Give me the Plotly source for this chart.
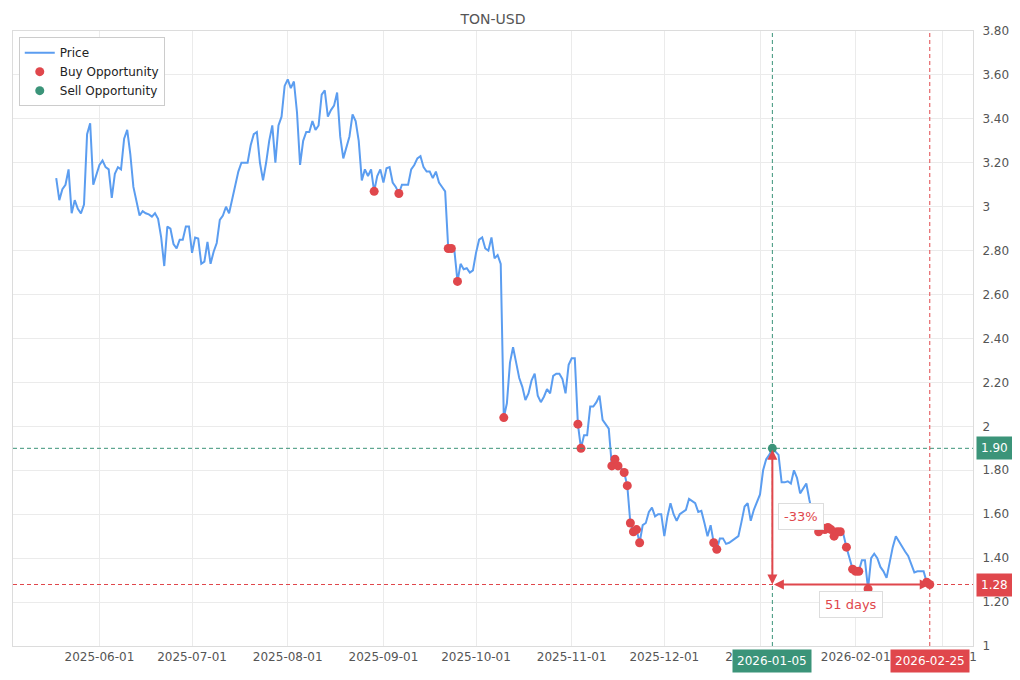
import pandas as pd
import plotly.graph_objects as go

# colours
blue = "#5b9df0"
red = "#e0474c"
green = "#3b9479"
grey_txt = "#555555"

ticker = "TON-USD"
first_day = "2025-05-18"

# daily closes, one list per month
may_prices = [3.13, 3.03, 3.08, 3.10, 3.17, 2.97, 3.03, 2.99, 2.97, 3.01, 3.33, 3.38, 3.10, 3.14]
jun_prices = [3.19, 3.21, 3.18, 3.17, 3.04, 3.15, 3.18, 3.17, 3.31, 3.35, 3.24, 3.09, 3.03, 2.96, 2.98,
              2.97, 2.965, 2.955, 2.97, 2.945, 2.86, 2.73, 2.91, 2.90, 2.83, 2.81, 2.85, 2.85, 2.91, 2.91]
jul_prices = [2.79, 2.86, 2.855, 2.74, 2.75, 2.84, 2.74, 2.795, 2.835, 2.94, 2.96, 3.00, 2.97, 3.03, 3.09,
              3.16, 3.20, 3.20, 3.20, 3.28, 3.33, 3.34, 3.20, 3.12, 3.20, 3.30, 3.37, 3.20, 3.37, 3.41, 3.55]
aug_prices = [3.58, 3.54, 3.57, 3.43, 3.19, 3.30, 3.34, 3.34, 3.39, 3.35, 3.37, 3.51, 3.53, 3.41, 3.44,
              3.46, 3.52, 3.32, 3.22, 3.27, 3.32, 3.42, 3.39, 3.30, 3.12, 3.17, 3.14, 3.17, 3.07, 3.14, 3.17]
sep_prices = [3.11, 3.175, 3.18, 3.11, 3.09, 3.06, 3.10, 3.10, 3.10, 3.17, 3.19, 3.22, 3.23, 3.18, 3.16,
              3.16, 3.13, 3.16, 3.11, 3.09, 3.07, 2.81, 2.81, 2.80, 2.66, 2.74, 2.715, 2.72, 2.70, 2.71]
oct_prices = [2.79, 2.85, 2.86, 2.81, 2.80, 2.86, 2.765, 2.78, 2.74, 2.04, 2.105, 2.29, 2.36, 2.29, 2.22,
              2.18, 2.12, 2.15, 2.21, 2.24, 2.14, 2.11, 2.135, 2.17, 2.15, 2.23, 2.24, 2.24, 2.215, 2.15, 2.28]
nov_prices = [2.31, 2.31, 2.01, 1.90, 1.96, 1.96, 2.09, 2.09, 2.11, 2.14, 2.03, 2.01, 1.99, 1.82, 1.85,
              1.82, 1.81, 1.79, 1.73, 1.56, 1.52, 1.53, 1.47, 1.55, 1.56, 1.61, 1.63, 1.59, 1.60, 1.60]
dec_prices = [1.50, 1.59, 1.65, 1.60, 1.57, 1.60, 1.61, 1.62, 1.67, 1.66, 1.65, 1.61, 1.615, 1.56, 1.50,
              1.55, 1.47, 1.44, 1.49, 1.49, 1.465, 1.47, 1.48, 1.49, 1.50, 1.565, 1.635, 1.65, 1.57, 1.62, 1.66]
jan_prices = [1.69, 1.80, 1.85, 1.87, 1.90, 1.885, 1.87, 1.745, 1.745, 1.75, 1.74, 1.80, 1.765, 1.695, 1.72,
              1.74, 1.665, 1.60, 1.56, 1.52, 1.54, 1.53, 1.54, 1.53, 1.50, 1.52, 1.52, 1.51, 1.45, 1.40, 1.35]
feb_prices = [1.34, 1.34, 1.39, 1.39, 1.26, 1.40, 1.42, 1.40, 1.36, 1.34, 1.31, 1.38, 1.45, 1.50, 1.475,
              1.45, 1.43, 1.41, 1.37, 1.335, 1.34, 1.34, 1.34, 1.29, 1.28]

buy_dates = ["2025-08-29", "2025-09-06", "2025-09-22", "2025-09-23", "2025-09-25", "2025-10-10",
             "2025-11-03", "2025-11-04", "2025-11-14", "2025-11-15", "2025-11-16", "2025-11-18",
             "2025-11-19", "2025-11-20", "2025-11-21", "2025-11-22", "2025-11-23", "2025-12-17",
             "2025-12-18", "2026-01-20", "2026-01-21", "2026-01-22", "2026-01-23", "2026-01-24",
             "2026-01-25", "2026-01-26", "2026-01-27", "2026-01-29", "2026-01-31", "2026-02-01",
             "2026-02-02", "2026-02-05", "2026-02-24", "2026-02-25"]
sell_dates = ["2026-01-05"]

peak_date = "2026-01-05"
last_date = "2026-02-25"

y_ticks = [1, 1.2, 1.4, 1.6, 1.8, 2, 2.2, 2.4, 2.6, 2.8, 3, 3.2, 3.4, 3.6, 3.8]
y_labels = ["1", "1.20", "1.40", "1.60", "1.80", "2", "2.20", "2.40", "2.60", "2.80",
            "3", "3.20", "3.40", "3.60", "3.80"]

prices = (may_prices + jun_prices + jul_prices + aug_prices + sep_prices + oct_prices
          + nov_prices + dec_prices + jan_prices + feb_prices)
df = pd.DataFrame({"price": prices},
                  index=pd.date_range(first_day, periods=len(prices), freq="D"))

buys = df.loc[pd.to_datetime(buy_dates)]
sells = df.loc[pd.to_datetime(sell_dates)]
peak = df.loc[peak_date, "price"]
last = df.loc[last_date, "price"]
pct = (last - peak) / peak * 100
n_days = (pd.Timestamp(last_date) - pd.Timestamp(peak_date)).days
mid_date = pd.Timestamp(peak_date) + pd.Timedelta(days=n_days / 2)

fig = go.Figure()
fig.add_trace(go.Scatter(x=df.index, y=df["price"], mode="lines", name="Price",
                         line=dict(color=blue, width=2)))
fig.add_trace(go.Scatter(x=buys.index, y=buys["price"], mode="markers", name="Buy Opportunity",
                         marker=dict(color=red, size=9)))
fig.add_trace(go.Scatter(x=sells.index, y=sells["price"], mode="markers", name="Sell Opportunity",
                         marker=dict(color=green, size=9)))

# guide lines
dash = "4px,3px"
fig.add_shape(type="line", xref="paper", x0=0, x1=1, y0=peak, y1=peak,
              line=dict(color=green, width=1, dash=dash))
fig.add_shape(type="line", xref="paper", x0=0, x1=1, y0=last, y1=last,
              line=dict(color=red, width=1, dash=dash))
fig.add_shape(type="line", yref="paper", y0=0, y1=1, x0=peak_date, x1=peak_date,
              line=dict(color=green, width=1, dash=dash))
fig.add_shape(type="line", yref="paper", y0=0, y1=1, x0=last_date, x1=last_date,
              line=dict(color=red, width=1, dash=dash))

# arrows
fig.add_annotation(x=peak_date, y=last, ax=peak_date, ay=peak, xref="x", yref="y",
                   axref="x", ayref="y", text="", showarrow=True, arrowside="end+start",
                   arrowhead=2, arrowsize=1, arrowwidth=2, arrowcolor=red)
fig.add_annotation(x=last_date, y=last, ax=peak_date, ay=last, xref="x", yref="y",
                   axref="x", ayref="y", text="", showarrow=True, arrowside="end+start",
                   arrowhead=2, arrowsize=1, arrowwidth=2, arrowcolor=red)

fig.add_annotation(x=peak_date, y=(peak + last) / 2, text=f"{pct:.0f}%", showarrow=False,
                   xshift=29, font=dict(color=red, size=13), bgcolor="white",
                   bordercolor="#dddddd", borderwidth=1, borderpad=5)
fig.add_annotation(x=mid_date, y=last, text=f"{n_days} days", showarrow=False,
                   yshift=-20, font=dict(color=red, size=13), bgcolor="white",
                   bordercolor="#dddddd", borderwidth=1, borderpad=5)

# value / date tags on the axes
for val, col in [(peak, green), (last, red)]:
    fig.add_annotation(x=1, xref="paper", y=val, yref="y", text=f"{val:.2f}", showarrow=False,
                       xanchor="left", xshift=3, font=dict(color="white", size=12),
                       bgcolor=col, borderpad=4)
for d, col in [(peak_date, green), (last_date, red)]:
    fig.add_annotation(x=d, xref="x", y=0, yref="paper", text=d, showarrow=False,
                       yanchor="top", yshift=-3, font=dict(color="white", size=12),
                       bgcolor=col, borderpad=4)

fig.update_layout(
    width=1020, height=680,
    margin=dict(l=5, r=55, t=23, b=42),
    paper_bgcolor="white", plot_bgcolor="white",
    font=dict(family="DejaVu Sans", size=12, color=grey_txt),
    title=dict(text=ticker, x=0.5, xref="paper", y=1 - 11 / 680, yanchor="middle",
               font=dict(size=14, color=grey_txt)),
    showlegend=True,
    legend=dict(x=0.006, y=0.99, xanchor="left", yanchor="top", bgcolor="white",
                bordercolor="#cccccc", borderwidth=1, font=dict(size=12, color="#222222")),
    xaxis=dict(range=["2025-05-04", "2026-03-11"], dtick="M1", tickformat="%Y-%m-%d",
               showgrid=True, gridcolor="#ebebeb", showline=True, linecolor="#dcdcdc",
               mirror=True, zeroline=False, ticks=""),
    yaxis=dict(range=[1, 3.8], side="right", tickvals=y_ticks, ticktext=y_labels,
               showgrid=True, gridcolor="#ebebeb", showline=True, linecolor="#dcdcdc",
               mirror=True, zeroline=False, ticks="", ticklabelstandoff=6),
)

fig.write_html("out.html")
